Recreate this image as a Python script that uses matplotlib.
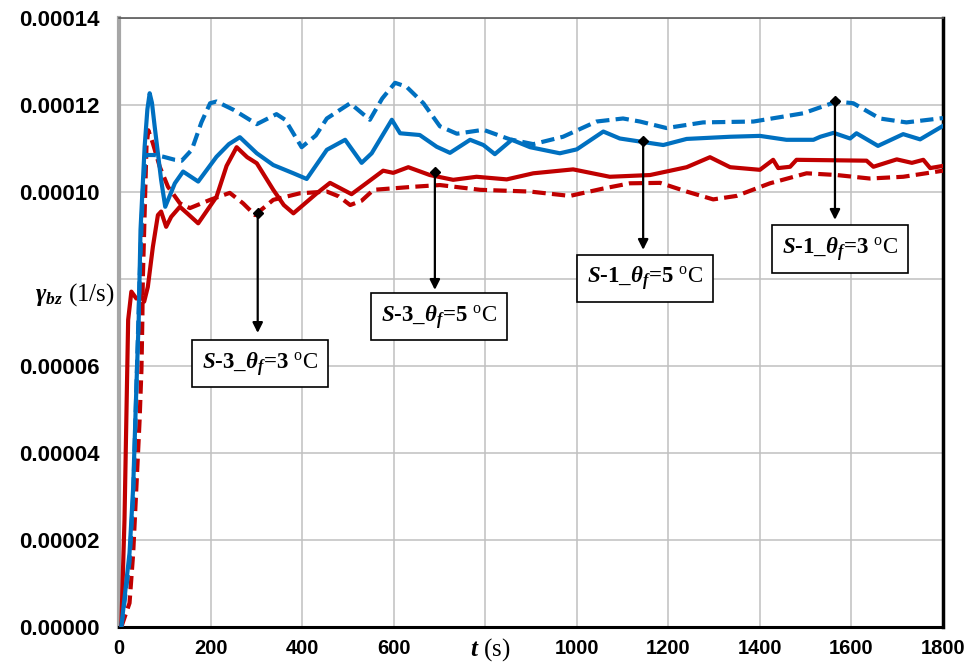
import matplotlib
matplotlib.use("Agg")
import matplotlib.pyplot as plt
import numpy as np

# ---------------- data ----------------
s1_5_t = [5, 23, 31, 38, 43, 47, 56, 62, 67, 72, 78, 92, 101, 122, 140, 173, 213, 240, 264, 301,
          337, 381, 410, 454, 494, 530, 552, 596, 614, 657, 694, 723, 767, 796, 821, 858, 898,
          963, 1000, 1058, 1094, 1138, 1189, 1240, 1335, 1400, 1458, 1517, 1532, 1561, 1597,
          1611, 1658, 1713, 1750, 1800]
s1_5_v = [0.0, 0.17, 0.322, 0.552, 0.706, 0.913, 1.104, 1.19, 1.227, 1.205, 1.15, 1.028, 0.966,
          1.02, 1.047, 1.024, 1.081, 1.11, 1.126, 1.089, 1.062, 1.043, 1.03, 1.097, 1.12, 1.067,
          1.089, 1.166, 1.135, 1.131, 1.104, 1.09, 1.12, 1.108, 1.087, 1.12, 1.103, 1.089, 1.098,
          1.139, 1.123, 1.116, 1.108, 1.122, 1.127, 1.129, 1.12, 1.12, 1.127, 1.136, 1.123, 1.135,
          1.106, 1.133, 1.121, 1.152]

s1_3_t = [5, 23, 31, 38, 45, 52, 58, 78, 97, 122, 137, 159, 180, 199, 213, 250, 301, 344, 363,
          399, 430, 454, 505, 548, 575, 603, 628, 665, 701, 738, 796, 854, 905, 970, 1043, 1101,
          1138, 1196, 1276, 1386, 1495, 1568, 1604, 1662, 1720, 1800]
s1_3_v = [0.0, 0.15, 0.30, 0.55, 0.80, 1.0, 1.085, 1.085, 1.081, 1.074, 1.072, 1.097, 1.16, 1.204,
          1.208, 1.189, 1.156, 1.179, 1.166, 1.103, 1.13, 1.169, 1.204, 1.166, 1.215, 1.251, 1.242,
          1.204, 1.151, 1.134, 1.143, 1.121, 1.11, 1.127, 1.162, 1.169, 1.162, 1.147, 1.16, 1.162,
          1.181, 1.208, 1.204, 1.169, 1.16, 1.17]

s3_5_t = [5, 12, 16, 20, 27, 38, 49, 55, 63, 74, 85, 92, 103, 114, 133, 150, 173, 213, 235, 257,
          280, 301, 337, 360, 381, 432, 461, 508, 540, 577, 599, 632, 679, 730, 781, 847, 905, 992,
          1072, 1116, 1160, 1240, 1291, 1335, 1400, 1429, 1440, 1466, 1480, 1633, 1648, 1699, 1732,
          1757, 1772, 1800]
s3_5_v = [0.0, 0.246, 0.476, 0.706, 0.771, 0.755, 0.759, 0.748, 0.782, 0.874, 0.947, 0.955, 0.92,
          0.943, 0.966, 0.95, 0.928, 0.989, 1.06, 1.103, 1.08, 1.066, 1.005, 0.97, 0.951, 0.997,
          1.021, 0.995, 1.02, 1.049, 1.044, 1.057, 1.039, 1.028, 1.035, 1.029, 1.043, 1.052, 1.035,
          1.037, 1.039, 1.057, 1.08, 1.057, 1.051, 1.074, 1.055, 1.058, 1.074, 1.072, 1.058, 1.075,
          1.067, 1.074, 1.055, 1.06]

s3_3_t = [5, 23, 31, 38, 45, 49, 51, 52, 56, 60, 64, 74, 89, 107, 133, 155, 199, 242, 271, 297,
          337, 395, 454, 480, 505, 530, 556, 643, 701, 789, 898, 985, 1058, 1116, 1182, 1240, 1298,
          1349, 1422, 1502, 1568, 1640, 1713, 1800]
s3_3_v = [0.0, 0.055, 0.17, 0.322, 0.476, 0.591, 0.706, 0.798, 0.951, 1.104, 1.142, 1.112, 1.058,
          1.012, 0.974, 0.963, 0.982, 0.998, 0.974, 0.947, 0.982, 0.997, 1.001, 0.99, 0.97, 0.98,
          1.005, 1.012, 1.016, 1.005, 1.001, 0.991, 1.008, 1.02, 1.021, 1.001, 0.983, 0.991, 1.02,
          1.043, 1.039, 1.031, 1.035, 1.049]

scale = 1e-4

x_ticks = [0, 200, 400, 600, 800, 1000, 1200, 1400, 1600, 1800]
x_ticklabels = ["0", "200", "400", "600", "", "1000", "1200", "1400", "1600", "1800"]
y_ticks = [0, 0.00002, 0.00004, 0.00006, 0.00008, 0.00010, 0.00012, 0.00014]
y_ticklabels = ["0.00000", "0.00002", "0.00004", "0.00006", "", "0.00010", "0.00012", "0.00014"]

# annotations: specimen, theta_f, curve point (t, value), arrow tip value, box centre (t, value)
ann_specimen = ["3", "3", "1", "1"]
ann_theta = ["3", "5", "5", "3"]
ann_point_t = [303, 690, 1145, 1564]
ann_point_v = [0.952, 1.046, 1.117, 1.210]
ann_tip_v = [0.676, 0.775, 0.867, 0.936]
ann_box_t = [308, 699, 1149, 1575]
ann_box_v = [0.605, 0.713, 0.802, 0.869]

# ---------------- style ----------------
plt.rcParams['mathtext.fontset'] = 'custom'
plt.rcParams['mathtext.rm'] = 'Liberation Serif'
plt.rcParams['mathtext.it'] = 'Liberation Serif:italic'
plt.rcParams['mathtext.bf'] = 'Liberation Serif:bold'
plt.rcParams['mathtext.bfit'] = 'Liberation Serif:bold:italic'

BLUE = '#0070C0'
RED = '#C00000'

fig = plt.figure(figsize=(9.68, 6.68), dpi=100)
ax = fig.add_axes([119 / 968, 41 / 668, 824 / 968, 609 / 668])

lw = 3.0
ax.plot(s3_3_t, np.array(s3_3_v) * scale, color=RED, lw=lw, dashes=(3.2, 1.5),
        dash_capstyle='butt', zorder=3)
ax.plot(s1_3_t, np.array(s1_3_v) * scale, color=BLUE, lw=lw, dashes=(3.2, 1.5),
        dash_capstyle='butt', zorder=3)
ax.plot(s3_5_t, np.array(s3_5_v) * scale, color=RED, lw=lw, solid_joinstyle='round', zorder=4)
ax.plot(s1_5_t, np.array(s1_5_v) * scale, color=BLUE, lw=lw, solid_joinstyle='round', zorder=4)

ax.set_xlim(0, 1800)
ax.set_ylim(0, 0.00014)
ax.set_xticks(x_ticks)
ax.set_xticklabels(x_ticklabels)
ax.set_yticks(y_ticks)
ax.set_yticklabels(y_ticklabels)
ax.tick_params(axis='x', length=0, pad=9)
ax.tick_params(axis='y', length=0, pad=14)
for lab in ax.get_xticklabels():
    lab.set_fontfamily('Liberation Sans')
    lab.set_fontweight('bold')
    lab.set_fontsize(14.5)
for lab in ax.get_yticklabels():
    lab.set_fontfamily('Liberation Sans')
    lab.set_fontweight('bold')
    lab.set_fontsize(16)

ax.grid(True, color='#c0c0c0', lw=1.1, zorder=0)
ax.set_axisbelow(True)

ax.spines['left'].set_color('#a6a6a6')
ax.spines['left'].set_linewidth(3)
ax.spines['top'].set_color('#595959')
ax.spines['top'].set_linewidth(1.2)
ax.spines['bottom'].set_color('black')
ax.spines['bottom'].set_linewidth(2.2)
ax.spines['right'].set_color('black')
ax.spines['right'].set_linewidth(2.5)

# axis labels placed in the tick-label rows
fig.text(75 / 968, 1 - 295 / 668, r'$\mathbfit{\gamma}_{\mathbfit{bz}}$ (1/s)',
         family='Liberation Serif', fontsize=18, ha='center', va='center')
fig.text(490 / 968, 1 - 650 / 668, r'$\mathbfit{t}$ (s)',
         family='Liberation Serif', fontsize=18, ha='center', va='center')

HY = '\u2010'


def label_text(spec, th):
    return (r'$\mathbfit{S}$' + HY + spec + r'_$\mathbfit{\theta}_{\mathbfit{f}}$=' + th
            + r' $^{\mathrm{o}}\mathrm{C}$')


for spec, th, pt, pv, tv, bt, bv in zip(ann_specimen, ann_theta, ann_point_t, ann_point_v,
                                        ann_tip_v, ann_box_t, ann_box_v):
    ax.annotate('', xy=(pt, tv * scale), xytext=(pt, pv * scale),
                arrowprops=dict(arrowstyle='-|>', color='black', lw=1.6,
                                mutation_scale=15, shrinkA=0, shrinkB=0), zorder=6)
    ax.plot([pt], [pv * scale], marker='D', color='black', ms=5, zorder=7)
    ax.text(bt, bv * scale, label_text(spec, th), family='Liberation Serif',
            fontweight='bold', fontsize=16.5, ha='center', va='center', zorder=8,
            bbox=dict(boxstyle='square,pad=0.42', fc='white', ec='black', lw=1.2))

fig.savefig('out.png', dpi=100)
